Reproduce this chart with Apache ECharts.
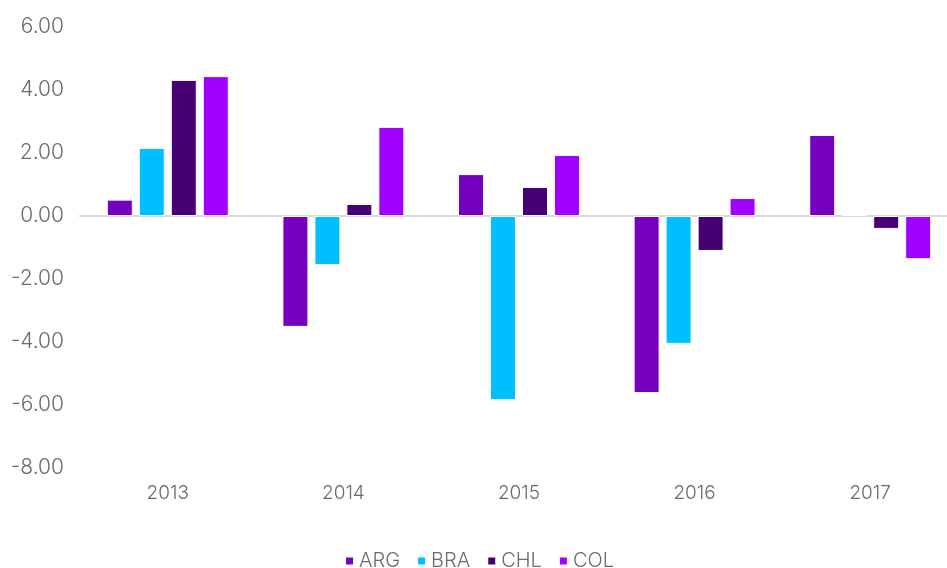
<!DOCTYPE html>
<html>
<head>
<meta charset="utf-8">
<script src="https://cdn.jsdelivr.net/npm/echarts@6/dist/echarts.min.js"></script>
<style>
  html, body { margin: 0; padding: 0; background: #fff; overflow: hidden; }
  /* a bit wider than the window: the plot runs off the right edge like in the original */
  #chart { width: 958px; height: 568px; }
</style>
</head>
<body>
<div id="chart"></div>
<script>
const years = ['2013', '2014', '2015', '2016', '2017'];
const countries = ['ARG', 'BRA', 'CHL', 'COL'];
const colors = ['#7500C0', '#00BFFF', '#460073', '#A100FF'];

const argValues = [0.52, -3.52, 1.33, -5.62, 2.57];
const braValues = [2.16, -1.56, -5.84, -4.06, 0.03];
const chlValues = [4.32, 0.38, 0.92, -1.11, -0.41];
const colValues = [4.44, 2.83, 1.94, 0.57, -1.37];

const seriesValues = [argValues, braValues, chlValues, colValues];

const chart = echarts.init(document.getElementById('chart'));

const font = 'Inter';

chart.setOption({
  animation: false,
  color: colors,
  textStyle: { fontFamily: font, color: '#6b6b6b' },
  grid: { left: 80, right: 0, top: 27, bottom: 100 },
  legend: {
    bottom: -8,
    left: 'center',
    itemWidth: 9,
    itemHeight: 9,
    itemGap: 16,
    icon: 'rect',
    textStyle: { fontSize: 20, color: '#6b6b6b', fontFamily: font, fontWeight: 300 },
    data: countries
  },
  xAxis: {
    type: 'category',
    data: years,
    axisLine: { onZero: true, lineStyle: { color: '#d9d9d9', width: 2 } },
    axisTick: { show: false },
    axisLabel: {
      fontSize: 19,
      fontWeight: 300,
      color: '#6b6b6b',
      margin: 16
    }
  },
  yAxis: {
    type: 'value',
    min: -8,
    max: 6,
    interval: 2,
    splitLine: { show: false },
    axisLine: { show: false },
    axisTick: { show: false },
    axisLabel: {
      fontSize: 21,
      fontWeight: 300,
      color: '#6b6b6b',
      margin: 16,
      formatter: v => v.toFixed(2)
    }
  },
  series: countries.map((name, i) => ({
    name: name,
    type: 'bar',
    data: seriesValues[i],
    barWidth: 26,
    barGap: '23%',
    barCategoryGap: '30%',
    itemStyle: { borderColor: '#fff', borderWidth: 1 }
  }))
});
</script>
</body>
</html>
